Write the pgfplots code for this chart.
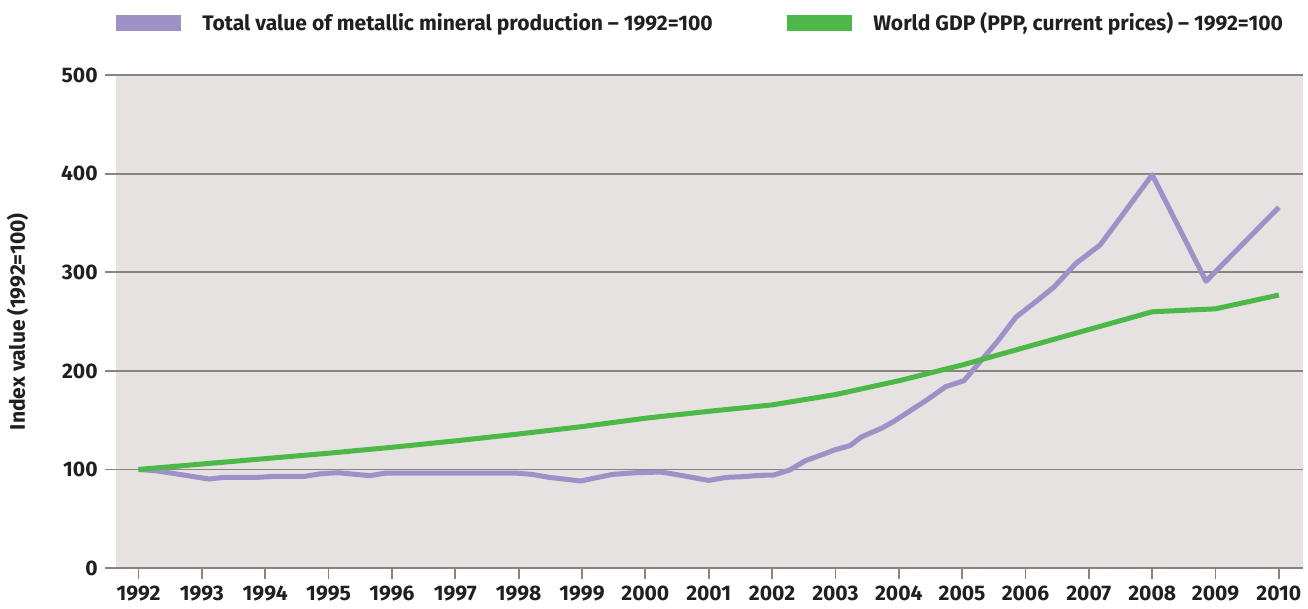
\documentclass[border=0pt]{standalone}
\usepackage{fontspec}
\setmainfont{Fira Sans}
\usepackage{pgfplots}
\pgfplotsset{compat=1.18}
\definecolor{purp}{RGB}{157,145,200}
\definecolor{grn}{RGB}{76,184,72}
\definecolor{bgc}{RGB}{230,226,225}
\definecolor{gridc}{RGB}{140,130,126}
\definecolor{txt}{RGB}{35,31,32}
\begin{document}
\begin{tikzpicture}
\begin{axis}[
  name=main,
  scale only axis,
  width=591.5pt, height=245.5pt,
  xmin=1991.64, xmax=2010.38, ymin=0, ymax=500,
  xtick={1992,1993,...,2010},
  ytick={0,100,...,500},
  /pgf/number format/1000 sep={},
  /pgf/number format/assume math mode=true,
  axis background/.style={fill=bgc},
  axis line style={draw=none},
  ymajorgrids,
  grid style={gridc, line width=0.9pt},
  tick align=outside, tick pos=left,
  major tick length=5.5pt,
  every tick/.style={gridc, line width=0.9pt},
  tick label style={font=\fontsize{10.5}{12}\selectfont\bfseries, text=txt},
  ylabel={Index value (1992=100)},
  ylabel style={font=\fontsize{10.5}{12}\selectfont\bfseries, text=txt, at={(axis description cs:-0.0828,0.5)}, anchor=center},
  legend columns=2,
  legend style={at={(axis description cs:0,1)}, anchor=south west, yshift=18.5pt, draw=none, fill=none, inner sep=0pt,
    font=\fontsize{10.5}{12}\selectfont\bfseries, text=txt,
    /tikz/every odd column/.append style={column sep=8.5pt},
    /tikz/every even column/.append style={column sep=35pt},
    /tikz/column 4/.append style={column sep=0pt}},
  legend cell align=left,
  legend image code/.code={\fill[#1, draw=none] (0pt,-4pt) rectangle (32.5pt,4pt);},
]
\addplot[purp, line width=2.5pt, line join=round] coordinates {
(1992.00,100) (1992.30,98.5) (1993.11,90.3) (1993.35,92) (1993.88,92) (1994.14,93)
(1994.62,93) (1994.88,95.7) (1995.15,96.7) (1995.65,93.7) (1995.91,96.4) (1997.95,96.4)
(1998.21,95) (1998.48,92) (1998.98,88.3) (1999.48,95) (1999.85,96.7) (2000.25,97.4)
(2000.59,93.7) (2001.00,88.9) (2001.28,92) (2001.54,92.7) (2001.80,94) (2002.03,94.4)
(2002.28,99.5) (2002.52,108.7) (2002.78,114.8) (2002.99,119.9) (2003.23,124.2) (2003.41,133)
(2003.73,141.9) (2003.92,148.7) (2004.45,170.8) (2004.74,184) (2005.03,190.1) (2005.29,209.8)
(2005.56,230.1) (2005.85,254.6) (2006.19,271.6) (2006.45,285.1) (2006.80,309.3) (2007.18,327.9)
(2008.00,399) (2008.85,291) (2010.00,366)
};
\addlegendentry{Total value of metallic mineral production – 1992=100}
\addplot[grn, line width=2.5pt, line join=round] coordinates {
(1992,100) (1993,105.5) (1994,111) (1995,116.5) (1996,122.5) (1997,129) (1998,136)
(1999,143.5) (2000,152) (2001,159) (2002,165.5) (2003,176) (2004,190) (2005,206)
(2006,224) (2007,242) (2008,260) (2009,263) (2010,277)
};
\addlegendentry{World GDP (PPP, current prices) – 1992=100}
\end{axis}
\path (main.north west) ++(0,37.5pt);
\end{tikzpicture}
\end{document}
